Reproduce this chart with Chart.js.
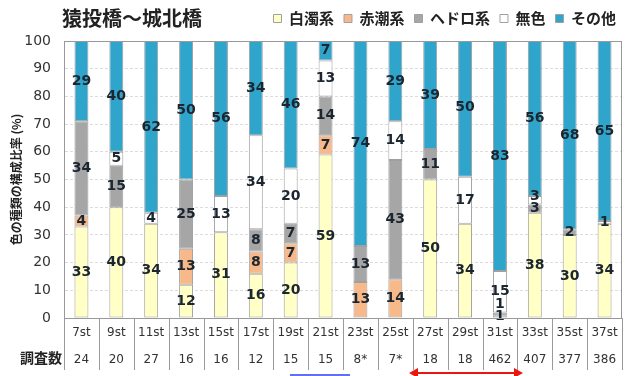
<!DOCTYPE html>
<html><head><meta charset="utf-8">
<script src="https://cdn.jsdelivr.net/npm/chart.js@4"></script>
<style>html,body{margin:0;padding:0;background:#fff}#wrap{width:626px;height:376px}</style>
</head><body><div id="wrap"><canvas id="c" width="626" height="376"></canvas></div>
<script>
const chartTitle = "猿投橋～城北橋";
const stations = ["7st","9st","11st","13st","15st","17st","19st","21st","23st","25st","27st","29st","31st","33st","35st","37st"];
const counts = ["24","20","27","16","16","12","15","15","8*","7*","18","18","462","407","377","386"];
const seriesNames = ["白濁系","赤潮系","ヘドロ系","無色","その他"];
const hakudaku = [33,40,34,12,31,16,20,59,0,0,50,34,1,38,30,34];
const akashio  = [4,0,0,13,0,8,7,7,13,14,0,0,0,0,0,0];
const hedoro   = [34,15,0,25,0,8,7,14,13,43,11,0,1,3,2,0];
const mushoku  = [0,5,4,0,13,34,20,13,0,14,0,17,15,3,0,1];
const sonota   = [29,40,62,50,56,34,46,7,74,29,39,50,83,56,68,65];
const yTicks = [0,10,20,30,40,50,60,70,80,90,100];

const seriesData = [hakudaku, akashio, hedoro, mushoku, sonota];
const colors = ['#FFFFC6','#F7B98A','#A6A6A6','#FFFFFF','#30A5CC'];

const extras = {
  id: 'extras',
  afterDatasetsDraw(chart) {
    const ctx = chart.ctx, ca = chart.chartArea;
    ctx.save();
    ctx.font = 'bold 14px "DejaVu Sans"';
    ctx.fillStyle = '#1c2630';
    ctx.textAlign = 'center';
    ctx.textBaseline = 'middle';
    const n = chart.data.labels.length;
    for (let i = 0; i < n; i++) {
      let prevY = Infinity;
      chart.data.datasets.forEach((ds, d) => {
        const v = ds.data[i];
        if (!v) return;
        const el = chart.getDatasetMeta(d).data[i];
        let y = (el.y + el.base) / 2;
        if (y > prevY - 12) y = prevY - 12;
        if (y < ca.top + 8) y = ca.top + 8;
        ctx.fillText(String(v), el.x, y);
        prevY = y;
      });
    }
    ctx.restore();
  },
  afterDraw(chart) {
    const ctx = chart.ctx, ca = chart.chartArea, xs = chart.scales.x;
    ctx.save();
    ctx.strokeStyle = '#999';
    ctx.lineWidth = 1;
    ctx.strokeRect(ca.left + 0.5, ca.top + 0.5, ca.right - ca.left - 1, ca.bottom - ca.top);
    // table column separators from the category scale
    const n = chart.data.labels.length;
    const half = (xs.getPixelForValue(1) - xs.getPixelForValue(0)) / 2;
    ctx.strokeStyle = '#9a9a9a';
    ctx.beginPath();
    for (let i = 0; i <= n; i++) {
      const x = Math.round(xs.getPixelForValue(i) - half) + 0.5;
      ctx.moveTo(x, ca.bottom); ctx.lineTo(x, ca.bottom + 52);
    }
    ctx.stroke();
    ctx.fillStyle = '#222';
    ctx.font = 'bold 20px "Noto Sans CJK JP"';
    ctx.textAlign = 'left';
    ctx.textBaseline = 'middle';
    ctx.fillText(chartTitle, 62, 18);
    ctx.font = 'bold 14px "Noto Sans CJK JP"';
    ctx.textAlign = 'right';
    ctx.fillText('調査数', ca.left - 2, ca.bottom + 40);
    // decorations
    ctx.strokeStyle = '#6070f0';
    ctx.lineWidth = 2;
    ctx.beginPath(); ctx.moveTo(290, 375); ctx.lineTo(350, 375); ctx.stroke();
    ctx.strokeStyle = '#e81810'; ctx.fillStyle = '#e81810';
    ctx.beginPath(); ctx.moveTo(416, 373); ctx.lineTo(516, 373); ctx.stroke();
    ctx.beginPath(); ctx.moveTo(409, 373); ctx.lineTo(418, 368); ctx.lineTo(418, 378); ctx.closePath(); ctx.fill();
    ctx.beginPath(); ctx.moveTo(523, 373); ctx.lineTo(514, 368); ctx.lineTo(514, 378); ctx.closePath(); ctx.fill();
    ctx.restore();
  }
};

new Chart(document.getElementById('c'), {
  type: 'bar',
  data: {
    labels: stations.map((s, i) => [s, counts[i]]),
    datasets: seriesNames.map((name, k) => ({
      label: name,
      data: seriesData[k],
      backgroundColor: colors[k],
      borderColor: '#A0A0A0',
      borderWidth: 1,
      borderSkipped: false,
      barPercentage: 0.4,
      categoryPercentage: 1,
      stack: 's'
    }))
  },
  options: {
    responsive: false,
    animation: false,
    layout: { padding: { top: 1, right: 0, bottom: 4, left: 0 } },
    plugins: {
      tooltip: { enabled: false },
      legend: {
        position: 'top', align: 'end',
        labels: {
          boxWidth: 8, boxHeight: 8, padding: 10, color: '#222',
          font: { family: '"Noto Sans CJK JP"', size: 15, weight: 'bold' }
        }
      }
    },
    scales: {
      x: {
        stacked: true,
        afterFit: (s) => { s.height = 54; },
        grid: { offset: true, display: true, drawOnChartArea: false, drawTicks: false },
        border: { color: '#888' },
        ticks: { padding: 1, autoSkip: false, maxRotation: 0, color: '#333',
                 font: { family: '"DejaVu Sans"', size: 12, lineHeight: 27 / 12 } }
      },
      xTopGap: {
        type: 'linear', position: 'top', min: 0, max: 1,
        afterFit: (s) => { s.height = 5; },
        grid: { display: false, drawTicks: false },
        border: { display: false },
        ticks: { display: false }
      },
      y: {
        stacked: true, min: 0, max: 100,
        afterFit: (s) => { s.width = 64; },
        afterBuildTicks: (s) => { s.ticks = yTicks.map(v => ({ value: v })); },
        grid: { color: '#dcdcdc', drawTicks: false },
        border: { color: '#888', dash: [3, 2] },
        ticks: { padding: 13, color: '#333', font: { family: '"DejaVu Sans"', size: 14 } },
        title: { display: true, text: '色の種類の構成比率 (%)', color: '#222',
                 padding: { top: 9, bottom: 2 },
                 font: { family: '"Noto Sans CJK JP"', size: 12, weight: 'bold' } }
      },
      y2: {
        position: 'right', min: 0, max: 100,
        afterFit: (s) => { s.width = 4; },
        grid: { display: false, drawTicks: false },
        border: { display: false },
        ticks: { display: false }
      }
    }
  },
  plugins: [extras]
});
</script></body></html>
